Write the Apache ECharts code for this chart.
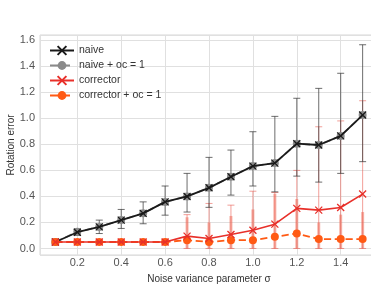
<!DOCTYPE html>
<html><head><meta charset="utf-8">
<script src="https://cdn.jsdelivr.net/npm/echarts@6/dist/echarts.min.js"></script>
<style>html,body{margin:0;padding:0;background:#fff}#c{width:371px;height:290px}</style>
</head><body><div id="c"></div>
<script>
const sigma = [0.1,0.2,0.3,0.4,0.5,0.6,0.7,0.8,0.9,1.0,1.1,1.2,1.3,1.4,1.5];
const naive = [0.05,0.125,0.166,0.218,0.27,0.358,0.40,0.466,0.551,0.633,0.656,0.805,0.795,0.865,1.025];
const naiveLow = [0.04,0.10,0.115,0.154,0.19,0.256,0.28,0.316,0.41,0.48,0.435,0.556,0.51,0.577,0.667];
const naiveHigh = [0.06,0.15,0.218,0.30,0.358,0.48,0.577,0.70,0.756,0.897,1.015,1.154,1.23,1.346,1.565];
const naiveOc = [0.05,0.128,0.166,0.218,0.27,0.358,0.40,0.466,0.551,0.633,0.656,0.805,0.795,0.865,1.025];
const corrector = [0.05,0.05,0.05,0.05,0.05,0.05,0.095,0.077,0.108,0.14,0.187,0.308,0.295,0.315,0.418];
const correctorLow = [0.04,0.04,0.04,0.04,0.04,0.04,0.0,0.0,0.0,0.0,0.0,0.0,0.0,0.0,0.0];
const correctorHigh = [0.06,0.06,0.06,0.06,0.06,0.07,0.26,0.346,0.333,0.44,0.43,0.60,0.935,0.98,1.135];
const correctorOc = [0.05,0.05,0.05,0.05,0.05,0.05,0.064,0.05,0.064,0.064,0.09,0.115,0.072,0.072,0.072];
const correctorOcLow = [0.04,0.04,0.04,0.04,0.04,0.04,0.0,0.0,0.0,0.0,0.0,0.0,0.0,0.0,0.0];
const correctorOcHigh = [0.06,0.06,0.06,0.06,0.06,0.06,0.24,0.20,0.25,0.30,0.42,0.38,0.20,0.26,0.28];

const FONT = 'Liberation Sans';
const xMark = 'path://M0,0L10,10M10,0L0,10';

function errSeries(name, lows, highs, color, width, cap, z) {
  return {
    type: 'custom', name: name, silent: true, z: z, clip: true,
    data: sigma.map((x, i) => [x, lows[i], highs[i]]),
    encode: { x: 0, y: [1, 2] },
    renderItem: function (params, api) {
      const x = api.value(0);
      const lo = api.coord([x, api.value(1)]);
      const hi = api.coord([x, api.value(2)]);
      const st = { stroke: color, lineWidth: width };
      const ch = [{ type: 'line', shape: { x1: lo[0], y1: lo[1], x2: hi[0], y2: hi[1] }, style: st }];
      if (cap) {
        const cs = { stroke: color, lineWidth: 1 };
        ch.push({ type: 'line', shape: { x1: lo[0] - cap, y1: lo[1], x2: lo[0] + cap, y2: lo[1] }, style: cs });
        ch.push({ type: 'line', shape: { x1: hi[0] - cap, y1: hi[1], x2: hi[0] + cap, y2: hi[1] }, style: cs });
      }
      return { type: 'group', children: ch };
    }
  };
}

function pairs(arr) { return sigma.map((x, i) => [x, arr[i]]); }

const chart = echarts.init(document.getElementById('c'), null, { renderer: 'canvas' });
chart.setOption({
  animation: false,
  backgroundColor: '#fff',
  textStyle: { fontFamily: FONT },
  grid: { left: 40, top: 35, bottom: 35, right: -7, outerBoundsMode: 'none', containLabel: false,
          show: true, borderColor: '#d6d6d6', borderWidth: 1, backgroundColor: '#fff' },
  legend: {
    orient: 'vertical', left: 44, top: 40, itemGap: 4, itemWidth: 24, itemHeight: 11,
    data: ['naive', 'naive + oc = 1', 'corrector', 'corrector + oc = 1'],
    textStyle: { fontFamily: FONT, fontSize: 10.5, color: '#333' }
  },
  xAxis: {
    type: 'value', min: 0.03, max: 1.57, splitNumber: 8,
    name: 'Noise variance parameter σ', nameLocation: 'middle', nameGap: 19, nameMoveOverlap: false,
    nameTextStyle: { fontFamily: FONT, fontSize: 10, color: '#333' },
    axisLine: { show: false }, axisTick: { show: false },
    axisLabel: { fontFamily: FONT, fontSize: 11, color: '#555', margin: 2, showMinLabel: false, showMaxLabel: false, formatter: v => v.toFixed(1) },
    splitLine: { show: true, lineStyle: { color: '#e0e0e0', width: 1 } }
  },
  yAxis: {
    type: 'value', min: -0.05, max: 1.64, splitNumber: 8,
    name: 'Rotation error', nameLocation: 'middle', nameGap: 24, nameMoveOverlap: false,
    nameTextStyle: { fontFamily: FONT, fontSize: 10, color: '#333' },
    axisLine: { show: false }, axisTick: { show: false },
    axisLabel: { fontFamily: FONT, fontSize: 11, color: '#555', margin: 5, showMinLabel: false, showMaxLabel: false, formatter: v => v.toFixed(1) },
    splitLine: { show: true, lineStyle: { color: '#e0e0e0', width: 1 } }
  },
  series: [
    errSeries('e_corrOc', correctorOcLow, correctorOcHigh, 'rgba(240,120,100,0.55)', 3, 0, 2),
    errSeries('e_corr', correctorLow, correctorHigh, 'rgba(232,80,70,0.55)', 1, 3.5, 3),
    errSeries('e_naive', naiveLow, naiveHigh, 'rgba(60,60,60,0.75)', 1, 3.5, 4),
    {
      name: 'naive + oc = 1', type: 'line', data: pairs(naiveOc), z: 5,
      symbol: 'circle', symbolSize: 8,
      lineStyle: { color: '#8a8a8a', width: 1.8, type: 'dashed' },
      itemStyle: { color: '#8a8a8a' }
    },
    {
      name: 'naive', type: 'line', data: pairs(naive), z: 6,
      symbol: xMark, symbolSize: 7,
      lineStyle: { color: '#1a1a1a', width: 1.8 },
      itemStyle: { color: '#1a1a1a', borderColor: '#1a1a1a', borderWidth: 1.3 }
    },
    {
      name: 'corrector + oc = 1', type: 'line', data: pairs(correctorOc), z: 7,
      symbol: 'circle', symbolSize: 8,
      lineStyle: { color: '#ff5a14', width: 1.8, type: 'dashed' },
      itemStyle: { color: '#ff5a14' }
    },
    {
      name: 'corrector', type: 'line', data: pairs(corrector), z: 8,
      symbol: xMark, symbolSize: 7,
      lineStyle: { color: '#e8302a', width: 1.6 },
      itemStyle: { color: '#e8302a', borderColor: '#e8302a', borderWidth: 1.3 }
    }
  ]
});
</script></body></html>
